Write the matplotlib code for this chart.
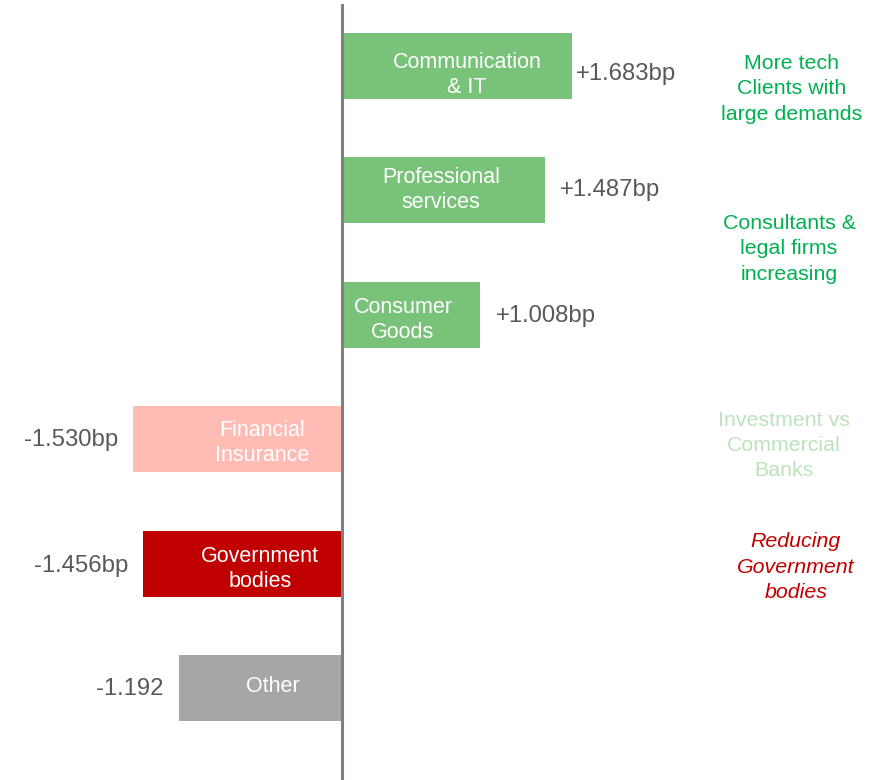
import matplotlib.pyplot as plt

plt.rcParams['font.family'] = ['Liberation Sans', 'DejaVu Sans']

# data
categories = ['Communication\n& IT', 'Professional\nservices', 'Consumer\nGoods',
              'Financial\nInsurance', 'Government\nbodies', 'Other']
values = [1.683, 1.487, 1.008, -1.530, -1.456, -1.192]
value_labels = ['+1.683bp', '+1.487bp', '+1.008bp', '-1.530bp', '-1.456bp', '-1.192']
bar_colors = ['#78c27a', '#78c27a', '#78c27a', '#ffbcb4', '#c00000', '#a6a6a6']

notes = ['More tech\nClients with\nlarge demands', 'Consultants &\nlegal firms\nincreasing',
         'Investment vs\nCommercial\nBanks', 'Reducing\nGovernment\nbodies']
note_colors = ['#00b050', '#00b050', '#bde3bd', '#c00000']
note_styles = ['normal', 'normal', 'normal', 'italic']

# layout (data units: 1 unit ~ 136.7 px horizontally, 124.4 px per row)
label_x = [0.914, 0.724, 0.446, -0.585, -0.60, -0.505]
label_dy = [0.07, 0.0, 0.04, 0.03, 0.04, -0.01]
val_gap = [0.03, 0.11, 0.117, 0.11, 0.11, 0.115]
val_dy = [0.065, 0.0, 0.01, 0.01, 0.02, 0.01]
note_x = [3.29, 3.27, 3.23, 3.32]
note_y = [0.185, 1.47, 3.05, 4.03]

fig = plt.figure(figsize=(8.81, 7.8), dpi=100)
ax = fig.add_axes([0, 0, 1, 1])
ax.set_xlim(-2.502, 3.943)
ax.set_ylim(5.74, -0.53)
ax.axis('off')

ypos = list(range(len(values)))
ax.barh(ypos, values, height=0.53, color=bar_colors, zorder=2)
ax.plot([0, 0], [-0.49, 5.74], color='#7f7f7f', lw=2.2, zorder=3)

for i, (cat, v, lab) in enumerate(zip(categories, values, value_labels)):
    ax.text(label_x[i], i + label_dy[i], cat, ha='center', va='center',
            color='white', fontsize=15.5, linespacing=1.25, zorder=4)
    if v > 0:
        ax.text(v + val_gap[i], i + val_dy[i], lab, ha='left', va='center',
                color='#595959', fontsize=17.2)
    else:
        ax.text(v - val_gap[i], i + val_dy[i], lab, ha='right', va='center',
                color='#595959', fontsize=17.2)

for t, c, s, x, y in zip(notes, note_colors, note_styles, note_x, note_y):
    ax.text(x, y, t, ha='center', va='center', color=c, style=s,
            fontsize=15.4, linespacing=1.42)

fig.savefig('out.png', dpi=100)
